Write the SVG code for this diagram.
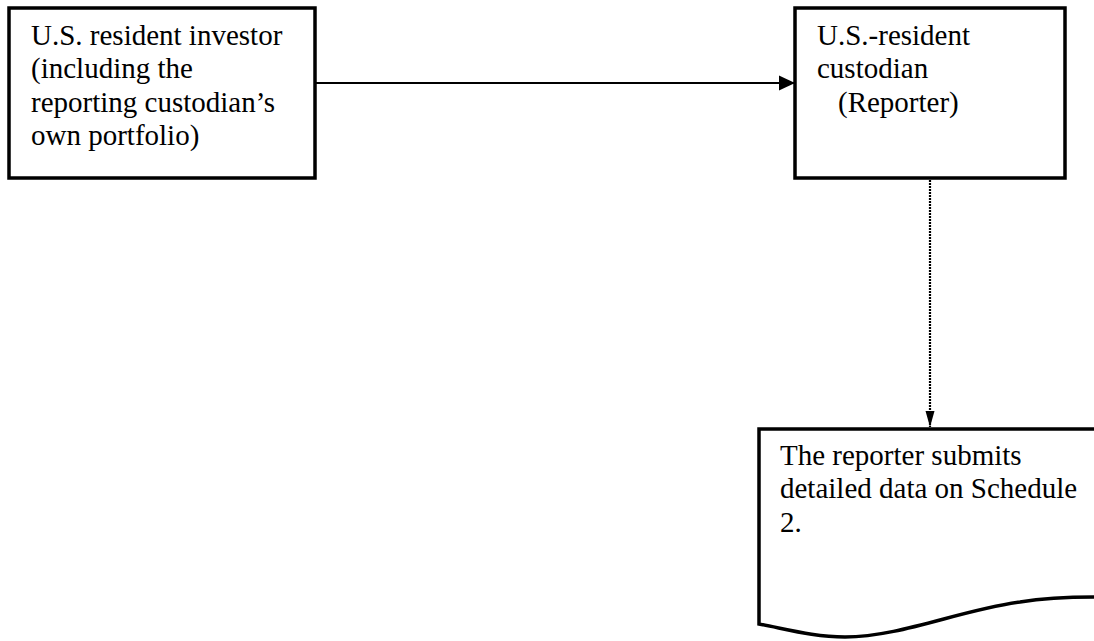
<svg xmlns="http://www.w3.org/2000/svg" width="1094" height="641" viewBox="0 0 1094 641">
<style>
.box{fill:#fff;stroke:#000;stroke-width:3.5}
.t{font-family:'Liberation Serif','DejaVu Serif','Times New Roman',Times,serif;font-size:29px;fill:#000}
.c{stroke:#000;stroke-width:2.2;fill:none}
</style>
<defs>
<marker id="a1" markerUnits="userSpaceOnUse" markerWidth="16" markerHeight="16" refX="16" refY="8" orient="auto">
<path d="M0,0.5 L16,8 L0,15.5 Z" fill="#000"/>
</marker>
<marker id="a2" markerUnits="userSpaceOnUse" markerWidth="16" markerHeight="10" refX="16" refY="5" orient="auto">
<path d="M0,0.5 L16,5 L0,9.5 Z" fill="#000"/>
</marker>
</defs>
<rect width="1094" height="641" fill="#fff"/>
<g id="connectors">
<line class="c" x1="316" y1="83" x2="795" y2="83" marker-end="url(#a1)"/>
<line class="c" x1="930" y1="180" x2="930" y2="427" stroke-dasharray="2,1" marker-end="url(#a2)"/>
</g>
<g id="investor">
<rect class="box" x="9" y="8" width="306" height="170"/>
<text class="t" font-family="Liberation Serif, serif" x="31" y="45">U.S. resident investor</text>
<text class="t" font-family="Liberation Serif, serif" x="31" y="78">(including the</text>
<text class="t" font-family="Liberation Serif, serif" x="31" y="112">reporting custodian’s</text>
<text class="t" font-family="Liberation Serif, serif" x="31" y="145">own portfolio)</text>
</g>
<g id="custodian">
<rect class="box" x="795" y="8" width="270" height="170"/>
<text class="t" x="817" y="45">U.S.-resident</text>
<text class="t" x="817" y="78">custodian</text>
<text class="t" x="838" y="112">(Reporter)</text>
</g>
<g id="document">
<path d="M1096,429 L759,429 L759,624 C790,630 815,637 845,637 C900,637 960,610 1020,602 C1045,598 1070,597 1096,597" fill="#fff" stroke="#000" stroke-width="3.5"/>
<text class="t" x="780" y="465">The reporter submits</text>
<text class="t" x="780" y="498">detailed data on Schedule</text>
<text class="t" x="780" y="532">2.</text>
</g>
</svg>
